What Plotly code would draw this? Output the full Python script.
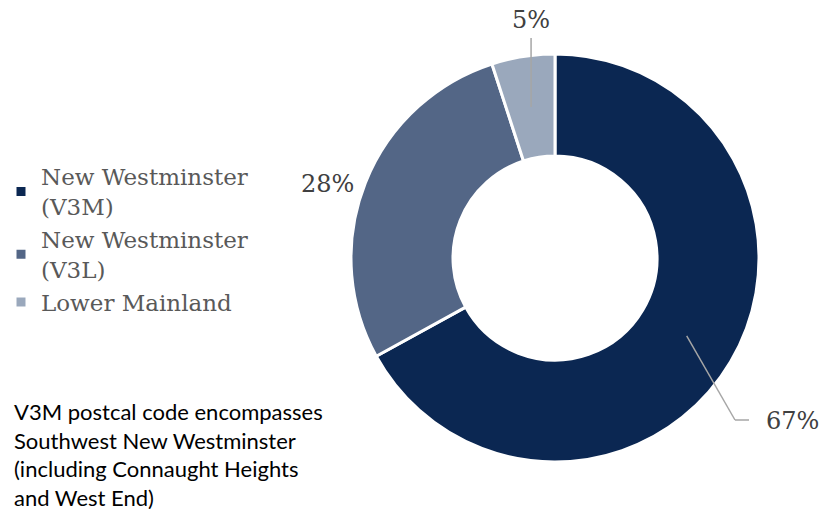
import math
import plotly.graph_objects as go

labels = ["New Westminster<br>(V3M)", "New Westminster<br>(V3L)", "Lower Mainland"]
values = [67, 28, 5]
colors = ["#0b2752", "#536686", "#9aa8bc"]

W, H = 833, 509
OFF = 8  # page margin around the plot div
CX, CY, R_OUT, HOLE = 555, 258, 204, 0.5


def px(x, y):
    return (x - OFF) / W, 1 - (y - OFF) / H


def mid_point(i, r):
    # point at the middle of slice i, clockwise from 12 o'clock
    start = sum(values[:i]) / sum(values)
    mid = (start + values[i] / sum(values) / 2) * 2 * math.pi
    return CX + math.sin(mid) * r, CY - math.cos(mid) * r


def main():
    fig = go.Figure()
    x0, y1 = px(CX - R_OUT, CY - R_OUT)
    x1, y0 = px(CX + R_OUT, CY + R_OUT)
    fig.add_trace(go.Pie(
        labels=labels, values=values, hole=HOLE, sort=False,
        direction="clockwise", rotation=0, textinfo="none", hoverinfo="label+percent",
        marker=dict(colors=colors, line=dict(color="white", width=3)),
        domain=dict(x=[x0, x1], y=[y0, y1]),
    ))

    ring = R_OUT * (1 + HOLE) / 2
    line_style = dict(color="#a6a6a6", width=1.5)
    lab_font = dict(family="DejaVu Serif", size=24, color="#404040")

    # 67% label with elbow leader
    sx, sy = mid_point(0, ring)
    pts = [(sx, sy), (735, 420), (749, 420)]
    for (ax_, ay_), (bx_, by_) in zip(pts[:-1], pts[1:]):
        a, b = px(ax_, ay_), px(bx_, by_)
        fig.add_shape(type="line", xref="paper", yref="paper", x0=a[0], y0=a[1], x1=b[0], y1=b[1], line=line_style)
    tx, ty = px(764, 421)
    fig.add_annotation(x=tx, y=ty, xref="paper", yref="paper", text=f"{values[0]}%", showarrow=False,
                       xanchor="left", yanchor="middle", font=lab_font)

    # 28% label, no leader
    tx, ty = px(327, 184)
    fig.add_annotation(x=tx, y=ty, xref="paper", yref="paper", text=f"{values[1]}%", showarrow=False,
                       xanchor="center", yanchor="middle", font=lab_font)

    # 5% label with straight leader
    sx, sy = mid_point(2, ring)
    a, b = px(sx, sy), px(sx, 38)
    fig.add_shape(type="line", xref="paper", yref="paper", x0=a[0], y0=a[1], x1=b[0], y1=b[1], line=line_style)
    tx, ty = px(sx, 20)
    fig.add_annotation(x=tx, y=ty, xref="paper", yref="paper", text=f"{values[2]}%", showarrow=False,
                       xanchor="center", yanchor="middle", font=lab_font)

    nx, ny = px(12, 396)
    fig.add_annotation(
        x=nx, y=ny, xref="paper", yref="paper", showarrow=False,
        xanchor="left", yanchor="top", align="left",
        text="V3M postcal code encompasses<br>Southwest New Westminster<br>(including Connaught Heights<br>and West End)",
        font=dict(family="Lato", size=22, color="#000000"),
    )

    lx, ly = px(1, 155)
    fig.update_layout(
        width=W, height=H,
        margin=dict(l=0, r=0, t=0, b=0, autoexpand=False),
        paper_bgcolor="white", plot_bgcolor="white",
        showlegend=True,
        legend=dict(x=lx, y=ly, xanchor="left", yanchor="top",
                    font=dict(family="DejaVu Serif", size=23, color="#595959"),
                    itemwidth=30, bgcolor="rgba(0,0,0,0)"),
    )
    fig.write_html("out.html")


if __name__ == "__main__":
    main()
